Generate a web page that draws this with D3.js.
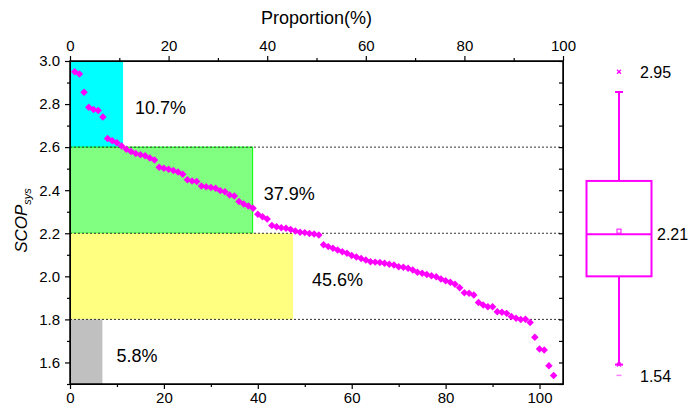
<!DOCTYPE html>
<html>
<head>
<meta charset="utf-8">
<script src="https://d3js.org/d3.v7.min.js"></script>
<style>
  body { margin: 0; background: #fff; }
  text { font-family: Arial, "Liberation Sans", sans-serif; }
</style>
</head>
<body>
<div id="vis"></div>
<script>
// values
var scop = [
  2.95, 2.94, 2.855, 2.785, 2.775, 2.77, 2.74, 2.64, 2.63, 2.62,
  2.605, 2.59, 2.58, 2.57, 2.565, 2.56, 2.55, 2.54, 2.507, 2.502,
  2.497, 2.492, 2.484, 2.474, 2.448, 2.443, 2.44, 2.42, 2.416, 2.413,
  2.409, 2.398, 2.393, 2.378, 2.373, 2.347, 2.336, 2.327, 2.316, 2.288,
  2.277, 2.266, 2.236, 2.23, 2.226, 2.223, 2.218, 2.21, 2.205, 2.203,
  2.199, 2.197, 2.192, 2.147, 2.138, 2.13, 2.122, 2.114, 2.107, 2.097,
  2.09, 2.083, 2.076, 2.068, 2.066, 2.064, 2.061, 2.056, 2.053, 2.045,
  2.042, 2.037, 2.029, 2.019, 2.014, 2.009, 2.003, 1.998, 1.988, 1.98,
  1.972, 1.963, 1.947, 1.924, 1.921, 1.913, 1.878, 1.867, 1.859, 1.859,
  1.836, 1.833, 1.828, 1.813, 1.805, 1.8, 1.801, 1.786, 1.717, 1.662,
  1.658, 1.585, 1.54
];

var bandLow = [2.6, 2.2, 1.8, 1.5];
var bandHigh = [3.0, 2.6, 2.2, 1.8];
var bandWidth = [11.3, 38.9, 47.5, 6.9];
var bandLabels = ['10.7%', '37.9%', '45.6%', '5.8%'];
var cutLines = [2.6, 2.2, 1.8];

var topTicks = [0, 20, 40, 60, 80, 100];
var topMinor = [10, 30, 50, 70, 90];
var bottomTicks = [0, 20, 40, 60, 80, 100];
var bottomMinor = [10, 30, 50, 70, 90];
var yTicks = [1.6, 1.8, 2.0, 2.2, 2.4, 2.6, 2.8, 3.0];
var yMinor = [1.5, 1.7, 1.9, 2.1, 2.3, 2.5, 2.7, 2.9];

// box plot summary
var boxMin = 1.54, boxLow = 1.59, boxQ1 = 2.0, boxMedian = 2.196;
var boxMean = 2.21, boxQ3 = 2.443, boxHigh = 2.856, boxMax = 2.95;

// styles
var bandFill = ['#00ffff', '#80ff80', '#ffff80', '#c0c0c0'];
var bandStroke = ['none', '#00ff00', 'none', 'none'];
var labelDx = [12, 11, 19, 14];
var pink = '#ff00ff';

var width = 694, height = 408;
var margin = { top: 61, left: 70, right: 131, bottom: 24 };
var plotW = width - margin.left - margin.right;
var plotH = height - margin.top - margin.bottom;

var svg = d3.select('#vis').append('svg')
  .attr('width', width)
  .attr('height', height);

var g = svg.append('g')
  .attr('transform', 'translate(' + margin.left + ',' + margin.top + ')');

var x = d3.scaleLinear().domain([0, 105]).range([0, plotW]);
var xTop = d3.scaleLinear().domain([0, 100]).range([0, plotW]);
var y = d3.scaleLinear().domain([1.5, 3.0]).range([plotH, 0]);

// coloured bands
g.selectAll('.band')
  .data(bandWidth)
  .enter()
  .append('rect')
  .attr('class', 'band')
  .attr('x', x(0))
  .attr('y', function(d, i) { return y(bandHigh[i]); })
  .attr('width', function(d) { return x(d) - x(0); })
  .attr('height', function(d, i) { return y(bandLow[i]) - y(bandHigh[i]); })
  .attr('fill', function(d, i) { return bandFill[i]; })
  .attr('stroke', function(d, i) { return bandStroke[i]; })
  .attr('stroke-width', 1);

g.selectAll('.cut')
  .data(cutLines)
  .enter()
  .append('line')
  .attr('class', 'cut')
  .attr('x1', 0)
  .attr('x2', plotW)
  .attr('y1', function(d) { return y(d); })
  .attr('y2', function(d) { return y(d); })
  .attr('stroke', '#333')
  .attr('stroke-width', 1)
  .attr('stroke-dasharray', '2,2');

g.selectAll('.pct')
  .data(bandLabels)
  .enter()
  .append('text')
  .attr('class', 'pct')
  .attr('x', function(d, i) { return x(bandWidth[i]) + labelDx[i]; })
  .attr('y', function(d, i) { return (y(bandLow[i]) + y(bandHigh[i])) / 2 + 10; })
  .attr('font-size', 18)
  .attr('fill', '#000')
  .text(function(d) { return d; });

// points
var diamond = d3.symbol().type(d3.symbolSquare).size(28);
g.selectAll('.pt')
  .data(scop)
  .enter()
  .append('path')
  .attr('class', 'pt')
  .attr('d', diamond)
  .attr('transform', function(d, i) {
    return 'translate(' + x(i + 1) + ',' + y(d) + ') rotate(45)';
  })
  .attr('fill', pink);

// axes
function styleAxis(sel) {
  sel.attr('font-family', 'Arial, "Liberation Sans", sans-serif').attr('font-size', 15);
  sel.selectAll('line').attr('stroke', '#000').attr('stroke-width', 1.2);
  sel.selectAll('path').attr('stroke', '#000');
  sel.selectAll('text').attr('fill', '#000');
}

g.append('g')
  .call(d3.axisTop(xTop).tickValues(topTicks).tickSize(5).tickSizeOuter(0).tickPadding(5))
  .call(styleAxis);
g.append('g')
  .call(d3.axisTop(xTop).tickValues(topMinor).tickSize(3).tickSizeOuter(0).tickFormat(''))
  .call(styleAxis);

g.append('g')
  .attr('transform', 'translate(0,' + plotH + ')')
  .call(d3.axisBottom(x).tickValues(bottomTicks).tickSize(5).tickSizeOuter(0).tickPadding(3))
  .call(styleAxis);
g.append('g')
  .attr('transform', 'translate(0,' + plotH + ')')
  .call(d3.axisBottom(x).tickValues(bottomMinor).tickSize(3).tickSizeOuter(0).tickFormat(''))
  .call(styleAxis);

g.append('g')
  .call(d3.axisLeft(y).tickValues(yTicks).tickSize(5).tickSizeOuter(0).tickPadding(5).tickFormat(d3.format('.1f')))
  .call(styleAxis);
g.append('g')
  .call(d3.axisLeft(y).tickValues(yMinor).tickSize(3).tickSizeOuter(0).tickFormat(''))
  .call(styleAxis);

// right edge, ticks pointing inwards
g.append('g')
  .attr('transform', 'translate(' + plotW + ',0)')
  .call(d3.axisLeft(y).tickValues(yTicks.concat(yMinor)).tickSize(4).tickSizeOuter(0).tickFormat(''))
  .call(styleAxis);

g.append('rect')
  .attr('width', plotW)
  .attr('height', plotH)
  .attr('fill', 'none')
  .attr('stroke', '#000')
  .attr('stroke-width', 1.5);

svg.append('text')
  .attr('x', margin.left + plotW / 2)
  .attr('y', 24)
  .attr('text-anchor', 'middle')
  .attr('font-size', 18)
  .text('Proportion(%)');

var yl = svg.append('text')
  .attr('transform', 'translate(27,' + (margin.top + plotH / 2 - 2) + ') rotate(-90)')
  .attr('text-anchor', 'middle')
  .attr('font-size', 17)
  .attr('font-style', 'italic');
yl.append('tspan').text('SCOP');
yl.append('tspan').attr('font-size', 11).attr('dy', 4).text('sys');

// box plot
var bx = margin.left + plotW + 56;
var bw = 65;
var box = svg.append('g').attr('transform', 'translate(0,' + margin.top + ')');

box.append('line')
  .attr('x1', bx).attr('x2', bx)
  .attr('y1', y(boxHigh)).attr('y2', y(boxQ3))
  .attr('stroke', pink).attr('stroke-width', 2);
box.append('line')
  .attr('x1', bx).attr('x2', bx)
  .attr('y1', y(boxQ1)).attr('y2', y(boxLow))
  .attr('stroke', pink).attr('stroke-width', 2);
box.selectAll('.cap')
  .data([boxHigh, boxLow])
  .enter()
  .append('line')
  .attr('x1', bx - 4).attr('x2', bx + 4)
  .attr('y1', function(d) { return y(d); })
  .attr('y2', function(d) { return y(d); })
  .attr('stroke', pink).attr('stroke-width', 2);

box.append('rect')
  .attr('x', bx - bw / 2)
  .attr('y', y(boxQ3))
  .attr('width', bw)
  .attr('height', y(boxQ1) - y(boxQ3))
  .attr('fill', 'none')
  .attr('stroke', pink)
  .attr('stroke-width', 2);
box.append('line')
  .attr('x1', bx - bw / 2).attr('x2', bx + bw / 2)
  .attr('y1', y(boxMedian)).attr('y2', y(boxMedian))
  .attr('stroke', pink).attr('stroke-width', 2);
box.append('rect')
  .attr('x', bx - 2).attr('y', y(boxMean) - 2)
  .attr('width', 4).attr('height', 4)
  .attr('fill', '#fff')
  .attr('stroke', pink).attr('stroke-width', 1);

var cross = d3.symbol().type(d3.symbolX).size(12);
box.selectAll('.cross')
  .data([boxMax, boxLow])
  .enter()
  .append('path')
  .attr('d', cross)
  .attr('transform', function(d) { return 'translate(' + bx + ',' + y(d) + ')'; })
  .attr('stroke', pink)
  .attr('stroke-width', 1.2)
  .attr('fill', 'none');
box.append('line')
  .attr('x1', bx - 2.5).attr('x2', bx + 2.5)
  .attr('y1', y(boxMin)).attr('y2', y(boxMin))
  .attr('stroke', '#ff80ff').attr('stroke-width', 1.5);

var fmt = d3.format('.2f');
box.append('text')
  .attr('x', bx + 21).attr('y', y(boxMax) + 6)
  .attr('font-size', 16)
  .text(fmt(boxMax));
box.append('text')
  .attr('x', bx + 38).attr('y', y(boxMean) + 9)
  .attr('font-size', 16)
  .text(fmt(boxMean));
box.append('text')
  .attr('x', bx + 21).attr('y', y(boxMin) + 7)
  .attr('font-size', 16)
  .text(fmt(boxMin));
</script>
</body>
</html>
